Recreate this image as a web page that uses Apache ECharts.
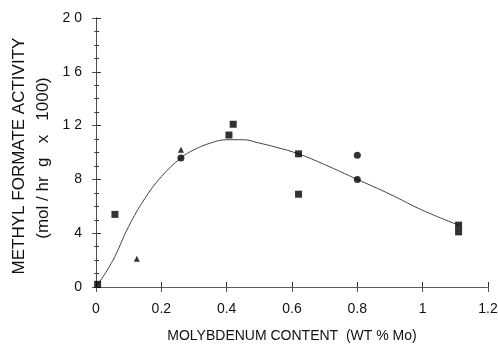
<!DOCTYPE html>
<html>
<head>
<meta charset="utf-8">
<script src="https://cdn.jsdelivr.net/npm/echarts@6/dist/echarts.min.js"></script>
<style>
html,body{margin:0;padding:0;background:#fff;}
#chart{width:498px;height:347px;}
</style>
</head>
<body>
<div id="chart"></div>
<script>
// measured points, grouped by marker
var squarePts = [[0.005, 0.2], [0.058, 5.4], [0.407, 11.3], [0.42, 12.1], [0.62, 9.9], [0.62, 6.9], [1.11, 4.6], [1.11, 4.1]];
var trianglePts = [[0.125, 2.1], [0.26, 10.2]];
var circlePts = [[0.26, 9.6], [0.80, 9.8], [0.80, 8.0]];
// fitted curve
var curvePts = [[0, 0], [0.05, 1.9], [0.1, 4.5], [0.15, 6.6], [0.2, 8.2], [0.26, 9.6], [0.3, 10.2], [0.35, 10.7],
  [0.4, 10.95], [0.45, 10.95], [0.5, 10.7], [0.55, 10.4], [0.62, 9.9], [0.7, 9.1], [0.8, 8.0], [0.9, 6.9], [1.0, 5.7], [1.11, 4.6]];
var xTicks = [0, 0.2, 0.4, 0.6, 0.8, 1, 1.2];
var yTicks = [0, 4, 8, 12, 16, 20];

var font = 'Liberation Sans, Arial, sans-serif';
var chart = echarts.init(document.getElementById('chart'));

var option = {
  animation: false,
  backgroundColor: '#fff',
  grid: {left: 96, right: 10, top: 18, bottom: 60, outerBoundsMode: 'none', containLabel: false},
  xAxis: [{
    type: 'value', min: 0, max: 1.2, interval: 0.2,
    axisLine: {lineStyle: {color: '#333', type: 'dotted', width: 1}},
    axisTick: {inside: true, length: 5, lineStyle: {color: '#333'}},
    splitLine: {show: false},
    axisLabel: {
      margin: 15, color: '#111', fontFamily: font, fontSize: 14,
      formatter: function (v) {
        var r = Math.round(v * 10) / 10;
        return xTicks.indexOf(r) >= 0 ? String(r) : '';
      }
    },
    name: 'MOLYBDENUM CONTENT  (WT % Mo)', nameLocation: 'middle', nameGap: 42,
    nameTextStyle: {color: '#111', fontFamily: font, fontSize: 14}
  }, {
    type: 'value', position: 'top', min: 0, max: 1.2, interval: 0.2,
    axisLine: {show: true, lineStyle: {color: '#555', type: 'dotted'}},
    axisTick: {show: true, inside: true, length: 5, lineStyle: {color: '#555'}},
    axisLabel: {show: false}, splitLine: {show: false}
  }],
  yAxis: [{
    type: 'value', min: 0, max: 20, interval: 4,
    axisLine: {show: true, lineStyle: {color: '#333', width: 1}},
    axisTick: {inside: true, length: 5, lineStyle: {color: '#333'}},
    minorTick: {show: true, splitNumber: 4, length: 3, lineStyle: {color: '#333'}},
    splitLine: {show: false},
    axisLabel: {margin: 14, color: '#111', fontFamily: font, fontSize: 14,
      formatter: function (v) { return yTicks.indexOf(v) >= 0 ? String(v).split('').join(' ') : ''; }}
  }, {
    type: 'value', position: 'right', min: 0, max: 20, interval: 4,
    axisLine: {show: true, lineStyle: {color: '#555', type: 'dotted'}},
    axisTick: {show: true, inside: true, length: 4, lineStyle: {color: '#555'}},
    minorTick: {show: true, splitNumber: 4, length: 2, lineStyle: {color: '#555'}},
    axisLabel: {show: false}, splitLine: {show: false}
  }],
  // the two-line y title, reading bottom-to-top
  graphic: [{
    type: 'text', x: 19, y: 156, rotation: Math.PI / 2,
    style: {text: 'METHYL FORMATE ACTIVITY', fill: '#111', font: '17px ' + font, align: 'center', verticalAlign: 'middle'}
  }, {
    type: 'text', x: 43, y: 158, rotation: Math.PI / 2,
    style: {text: '(mol / hr  g   x   1000)', fill: '#111', font: '17px ' + font, align: 'center', verticalAlign: 'middle'}
  }],
  series: [{
    type: 'line', data: curvePts, smooth: 0.4, showSymbol: false,
    lineStyle: {color: '#444', width: 1}, z: 1
  }, {
    type: 'scatter', data: squarePts, symbol: 'rect', symbolSize: 7,
    itemStyle: {color: '#000'}, z: 3
  }, {
    type: 'scatter', data: trianglePts, symbol: 'triangle', symbolSize: 6,
    itemStyle: {color: '#000'}, z: 3
  }, {
    type: 'scatter', data: circlePts, symbol: 'circle', symbolSize: 7,
    itemStyle: {color: '#000'}, z: 3
  }]
};
chart.setOption(option);
</script>
</body>
</html>
